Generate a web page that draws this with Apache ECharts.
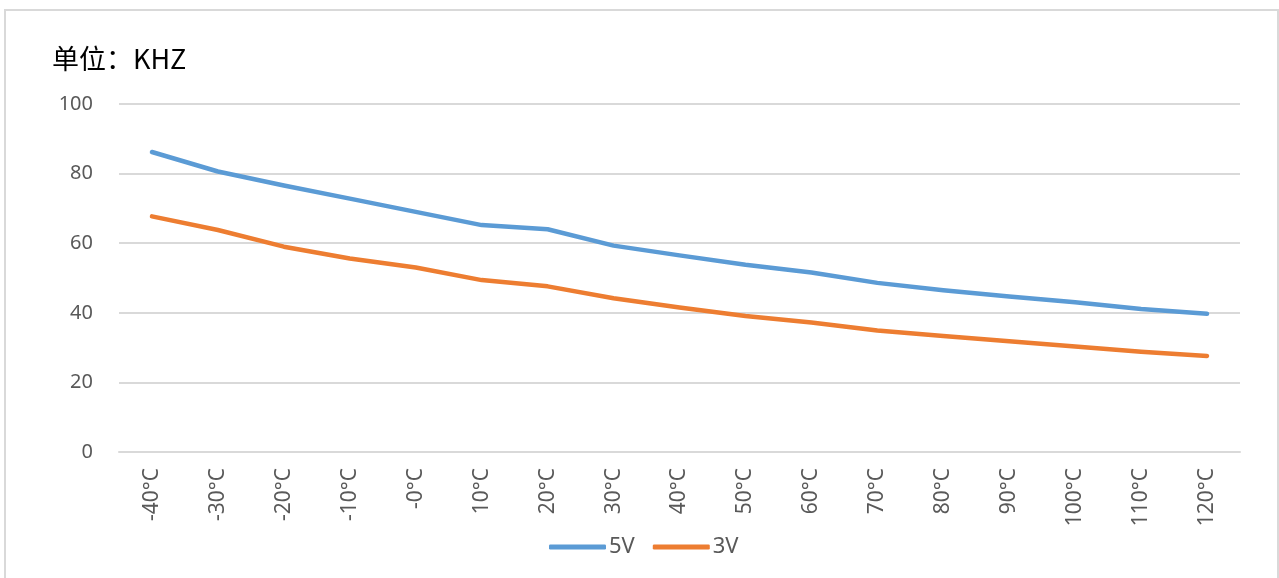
<!DOCTYPE html>
<html>
<head>
<meta charset="utf-8">
<style>
  html, body { margin: 0; padding: 0; background: #fff; }
  #chart { width: 1279px; height: 578px; }
</style>
<script src="https://cdn.jsdelivr.net/npm/echarts@6/dist/echarts.min.js"></script>
</head>
<body>
<div id="chart"></div>
<script>
// Temperature points on the x axis
var categories = ['-40°C', '-30°C', '-20°C', '-10°C', '-0°C', '10°C', '20°C', '30°C', '40°C',
                  '50°C', '60°C', '70°C', '80°C', '90°C', '100°C', '110°C', '120°C'];
// Frequency (KHZ) at 5V supply
var values5V = [86.2, 80.6, 76.6, 72.8, 69.0, 65.2, 64.0, 59.3, 56.5, 53.8, 51.6, 48.6, 46.5, 44.7, 43.0, 41.1, 39.7];
// Frequency (KHZ) at 3V supply
var values3V = [67.7, 63.8, 59.0, 55.6, 53.0, 49.4, 47.6, 44.2, 41.5, 39.1, 37.2, 34.9, 33.3, 31.8, 30.3, 28.8, 27.6];
var seriesNames = ['5V', '3V'];
var unitLabel = '单位：KHZ';

var font = '"Noto Sans", "Noto Sans CJK SC", sans-serif';
var labelColor = '#595959';
var gridColor = '#D9D9D9';

var chart = echarts.init(document.getElementById('chart'), null, { renderer: 'canvas' });

chart.setOption({
  backgroundColor: '#ffffff',
  animation: false,
  graphic: [
    {
      type: 'rect',
      shape: { x: 5, y: 10, width: 1273, height: 600 },
      style: { fill: 'none', stroke: '#D9D9D9', lineWidth: 2 },
      silent: true
    },
    {
      type: 'text',
      left: 52,
      top: 45,
      style: {
        text: unitLabel,
        fill: '#000000',
        font: '27px "Noto Sans CJK SC", "Noto Sans", sans-serif'
      }
    }
  ],
  grid: { left: 119, right: 39, top: 104, bottom: 126 },
  legend: {
    data: seriesNames,
    left: 544,
    top: 531,
    icon: 'roundRect',
    itemWidth: 57,
    itemHeight: 5,
    itemGap: 18,
    textStyle: { color: labelColor, fontSize: 22, fontFamily: font, padding: [0, 0, 0, -2] }
  },
  xAxis: {
    type: 'category',
    data: categories,
    boundaryGap: true,
    axisLine: { show: true, lineStyle: { color: gridColor, width: 2 } },
    axisTick: { show: false },
    axisLabel: {
      interval: 0,
      rotate: 90,
      margin: 16,
      color: labelColor,
      fontSize: 21,
      fontFamily: font
    }
  },
  yAxis: {
    type: 'value',
    min: 0,
    max: 100,
    interval: 20,
    axisLine: { show: false },
    axisTick: { show: false },
    axisLabel: { margin: 26, color: labelColor, fontSize: 20, fontFamily: font },
    splitLine: { show: true, lineStyle: { color: gridColor, width: 2 } }
  },
  series: [
    {
      name: seriesNames[0],
      type: 'line',
      data: values5V,
      symbol: 'none',
      smooth: false,
      itemStyle: { color: '#5B9BD5' },
      lineStyle: { color: '#5B9BD5', width: 4.5, cap: 'round', join: 'round' }
    },
    {
      name: seriesNames[1],
      type: 'line',
      data: values3V,
      symbol: 'none',
      smooth: false,
      itemStyle: { color: '#ED7D31' },
      lineStyle: { color: '#ED7D31', width: 4.5, cap: 'round', join: 'round' }
    }
  ]
});
</script>
</body>
</html>
